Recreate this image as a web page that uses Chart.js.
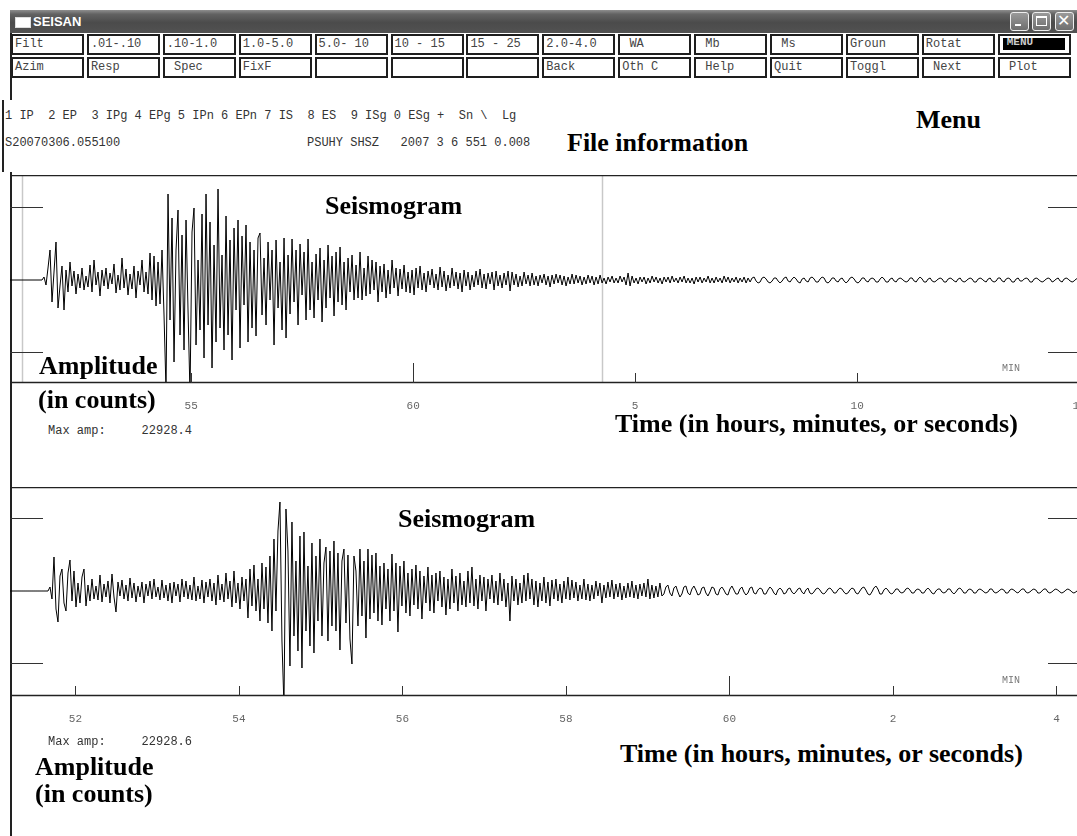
<!DOCTYPE html>
<html>
<head>
<meta charset="utf-8">
<title>SEISAN</title>
<script src="https://cdn.jsdelivr.net/npm/chart.js@4.4.1/dist/chart.umd.min.js"></script>
<style>
  html, body { margin: 0; padding: 0; background: #fff; }
  body { width: 1077px; height: 836px; overflow: hidden; position: relative; }
  .abs { position: absolute; white-space: pre; }
  .mono { font-family: 'Liberation Mono', 'DejaVu Sans Mono', monospace; font-size: 12px; line-height: 12px; color: #333; }
  .note { font-family: 'Liberation Serif', 'DejaVu Serif', serif; font-weight: bold; font-size: 26px; line-height: 26px; color: #000; }
  #titlebar { left: 10px; top: 10px; width: 1067px; height: 23px;
    background: linear-gradient(to bottom, #8e8e8e 0%, #626262 18%, #4b4b4b 55%, #525252 100%); }
  #titlebar .ttl { left: 23px; top: 4px; font-family: 'Liberation Sans', sans-serif; font-weight: bold; font-size: 13px; color: #fff; }
  #titlebar .ico { left: 5px; top: 7px; width: 14px; height: 9px; background: #fff; border: 1px solid #ddd; }
  .ctl { position: absolute; top: 2px; width: 19px; height: 19px; box-sizing: border-box; border: 1px solid #eee; border-radius: 3px;
    background: linear-gradient(to bottom, #9a9a9a, #6e6e6e); }
  .btn { position: absolute; box-sizing: border-box; width: 73px; height: 21px; border: 2px solid #1e1e1e; background: #fff;
    font-family: 'Liberation Mono', monospace; font-size: 12px; line-height: 14px; color: #444; padding: 1px 0 0 2px; white-space: pre; }
  .plot { position: absolute; left: 10px; }
  .edge { position: absolute; width: 2px; background: #222; }
</style>
</head>
<body>
<div id="titlebar" class="abs">
  <div class="abs ico"></div>
  <div class="abs ttl">SEISAN</div>
  <div class="ctl" style="left:1000px"><div class="abs" style="left:4px;top:11px;width:6px;height:2px;background:#fff"></div></div>
  <div class="ctl" style="left:1022px"><div class="abs" style="left:3px;top:3px;width:11px;height:10px;box-sizing:border-box;border:1px solid #fff;border-top-width:2px"></div></div>
  <div class="ctl" style="left:1045px"><div class="abs" style="left:1px;top:-2px;font-family:'DejaVu Sans';font-size:16px;color:#fff">✕</div></div>
</div>
<div id="menu"></div>
<div class="edge" style="left:10px;top:33px;height:67px"></div>
<div class="edge" style="left:2px;top:100px;height:72px"></div>
<div class="edge" style="left:10px;top:172px;height:664px"></div>

<div class="abs mono" style="left:5px;top:110px">1 IP  2 EP  3 IPg 4 EPg 5 IPn 6 EPn 7 IS  8 ES  9 ISg 0 ESg +  Sn \  Lg</div>
<div class="abs mono" style="left:5px;top:137px">S20070306.055100</div>
<div class="abs mono" style="left:307px;top:137px">PSUHY SHSZ   2007 3 6 551 0.008</div>

<div class="abs note" style="left:916px;top:107px">Menu</div>
<div class="abs note" style="left:567px;top:130px">File information</div>

<div class="plot" style="top:175px"><canvas id="traceTop" width="1100" height="248"></canvas></div>
<div class="plot" style="top:487px"><canvas id="traceBottom" width="1100" height="249"></canvas></div>

<div class="abs mono" style="left:1002px;top:363px;font-size:10px;color:#777">MIN</div>
<div class="abs mono" style="left:1002px;top:675px;font-size:10px;color:#777">MIN</div>
<div class="abs mono" style="left:48px;top:425px">Max amp:     22928.4</div>
<div class="abs mono" style="left:48px;top:736px">Max amp:     22928.6</div>

<div class="abs note" style="left:325px;top:193px">Seismogram</div>
<div class="abs note" style="left:39px;top:353px">Amplitude</div>
<div class="abs note" style="left:38px;top:387px">(in counts)</div>
<div class="abs note" style="left:615px;top:411px">Time (in hours, minutes, or seconds)</div>
<div class="abs note" style="left:398px;top:506px">Seismogram</div>
<div class="abs note" style="left:35px;top:754px">Amplitude</div>
<div class="abs note" style="left:35px;top:781px">(in counts)</div>
<div class="abs note" style="left:620px;top:741px">Time (in hours, minutes, or seconds)</div>

<script>
// menu buttons
const menuRow1 = ['Filt', '.01-.10', '.10-1.0', '1.0-5.0', '5.0- 10', '10 - 15', '15 - 25', '2.0-4.0', ' WA', ' Mb', ' Ms', 'Groun', 'Rotat', 'MENU'];
const menuRow2 = ['Azim', 'Resp', ' Spec', 'FixF', '', '', '', 'Back', 'Oth C', ' Help', 'Quit', 'Toggl', ' Next', ' Plot'];

// time axis, minutes after 05:00
const topStart = 50.92, topStep = 0.04505, topEnd = 75.244;
const zoomWindow = [51.2, 64.25];            // grey marks on the upper trace
const topTickMinutes = [55, 60, 65, 70, 75];
const topTickLabels = ['55', '60', '5', '10', '15'];
const bottomStart = 51.2, bottomStep = 0.02446, bottomEnd = 64.41;
const bottomTickMinutes = [52, 54, 56, 58, 60, 62, 64];
const bottomTickLabels = ['52', '54', '56', '58', '60', '2', '4'];
const hourMinute = 60;
const ampMarks = [14600, -14400];

// PSUHY SHSZ, amplitude in counts (decimated for display)
const traceTop = [
  0,0,0,0,0,0,0,0,0,0,0,0,0,0,0,0,0,
  600,-1000,2400,6000,-4400,1600,7600,-5600,-1200,2800,
  -6000,2000,-2400,3600,-1200,1800,-2800,1200,-1600,2400,
  -2000,800,-1400,3000,-2400,4000,-1000,1600,-3200,2000,
  -1200,2400,-1800,1400,-800,3200,-2600,1000,-2000,4400,
  -1600,2200,-3000,1200,-1800,2800,-3600,1800,-1000,4000,
  -2400,1600,-2800,5400,
  -4000,4800,-5200,3600,-4800,6000,-7000,
  -22000,17200,-8000,12400,-16400,6000,14000,-11000,9000,-14000,
  12000,-6000,-22928,9600,14400,-13000,4000,-10000,13200,-15600,
  17200,-9000,11600,-17600,7000,-12400,18200,-9600,5000,-14000,
  12800,-11000,8000,-16000,10400,-6000,12000,-13600,8800,-5000,
  11000,-12400,7600,-9600,6000,-11200,8400,
  9400,-7000,4400,-9000,7600,-4000,6000,-13000,8000,-5600,
  3600,-10000,8400,-11600,5000,-6800,8200,-4400,6000,-9000,
  7200,-3000,5600,-8000,8200,-6000,3600,-7600,5200,-4000,
  6400,-8400,4000,-5600,7000,-3600,4800,-7200,5600,-4400,
  6600,
  -5000,3600,-6000,4400,-2400,5000,-4000,3000,-3600,5600,
  -4000,2400,-3200,4800,-2800,4000,-2000,3600,-4400,2800,
  -2400,3200,-3600,2000,-2800,4000,-1600,2400,-3200,2200,
  -1800,3000,-2400,1600,-2600,2000,-3000,2400,-1600,2800,
  -2000,1400,-2400,1800,-1000,2200,-1600,1200,-2000,2600,
  -1400,1800,-2200,1000,-1600,2400,-1200,1600,-1800,1400,
  -2400,2000,-1200,1600,-2000,1000,-1400,1800,-1000,2200,
  -1600,1200,-1800,1400,-800,1600,-2000,1800,-1200,1000,
  -1600,1400,-1000,1800,-2200,
  1600,-1000,1200,-1400,800,-1200,1600,-800,1000,-1200,
  1400,-1000,800,-1200,1000,-600,1200,-1000,800,-1400,
  1000,-800,1200,-600,1000,-1000,800,-1200,600,-800,
  1200,-800,1000,-600,800,-1000,600,-800,1000,-600,
  800,-1000,600,-800,1000,
  -600,400,-800,600,-400,800,-600,400,-600,800,
  -400,600,-1000,1400,-1200,800,-600,400,-800,600,
  -400,600,-800,400,-600,800,-400,600,-600,400,
  -800,600,-400,600,-600,800,-400,400,-600,600,
  -400,800,-600,400,-600,400,-800,600,-400,600,
  -600,400,-400,800,-600,400,-600,600,-400,400,
  -600,800,-400,600,-600,400,-400,600,-600,400,
  -400,600,-600,400,-400,
  400,600,-200,-600,-400,400,600,200,-400,-600,
  -200,400,400,-200,-600,-200,400,600,-200,-400,
  200,600,200,-400,-600,200,400,-200,-400,400,
  600,200,-400,-400,200,600,400,-400,-600,-200,
  400,400,-200,-400,200,400,-200,-600,-200,400,
  600,200,-400,-600,-200,400,400,-200,-400,200,
  400,200,-400,-400,200,600,200,-400,-400,200,
  400,-200,-400,200,400,200,-200,-400,-200,400,
  400,-200,-400,200,600,200,-400,-400,200,400,
  -200,-400,-200,200,400,200,-400,-400,200,400,
  200,-200,-400,200,400,-200,-400,-200,200,400,
  200,-400,-400,200,400,200,-200,-400,200,400,
  -200,-400,-200,400,400,-200,-400,200,400,200,
  -400,-400,200,400,-200,-200,200,400,200,-400,
  -400,200,400,200,-200,-400,-200,200,400,200,
  -400,-200,200,400,-200,-400,200,400,200,-200,
  -400,-200,200,400,200,-200,-400,200,400
];

const traceBottom = [
  0,0,0,0,0,0,0,0,0,0,0,0,0,0,0,0,0,0,0,0,
  800,-1600,6800,-3600,-6200,3000,4400,-2400,-4000,3600,
  6200,-2000,4000,-3200,1600,-2400,2800,4400,-3000,1200,
  -2000,2400,-1600,1000,-1800,3200,-2200,1400,-1200,2000,
  -2400,3400,-1200,-4200,1800,-1000,2200,-1600,1200,-2000,
  2600,-1400,1600,-2200,1000,-1200,1800,-2400,1400,-1000,
  2000,-1600,2400,-1200,800,-1800,2200,-1400,1200,-2000,
  1600,-2400,1800,-1000,1400,-2200,2400,-1200,2000,-1600,
  1200,-1800,2800,-2000,1000,-1600,2200,-2400,1800,-1200,
  2400,-2000,1600,-2800,3200,-1800,1400,-2200,3600,-1600,
  2000,-3200,4000,-2400,1600,-3600,2800,-2000,2400,-5400,
  4400,-3000,5200,-4000,2400,-6000,5600,-3600,4800,-6400,7000,
  -8000,10400,-4000,12000,17800,-10000,-22928,16400,8000,-15000,
  13800,-9000,6000,-12000,11000,-15400,11800,-8000,5000,-11000,
  9600,-12400,7000,-6000,10400,-9000,5600,8800,-10000,8000,
  -7000,10000,-8000,7600,-11800,6000,8400,-6400,7200,-9600,
  -14600,7000,4000,-7000,8400,-5000,6000,-9400,8400,-5600,
  7200,-4400,7600,-6000,5000,-6800,5600,-3600,4400,-6000,
  7400,-4000,5600,-8200,5000,-3000,6000,-4400,3600,-5000,
  4400,-2800,5200,-3600,4000,-5600,3000,-2400,4800,-4000,
  3200,-4400,3600,-2000,4000,-3200,2800,-4800,2400,-3600,
  4400,-2400,3000,-4000,3600,-2800,2000,-3200,4000,-2400,
  4800,-3000,2400,-3600,3200,
  -2000,2800,-4000,2400,-1600,3200,-2400,2000,-2800,3600,
  -2000,2400,-3200,1600,-6000,3000,-2000,2400,-2800,1600,
  -2400,3200,-2000,3600,-1600,2400,-2800,2000,-3200,1600,
  -2000,2800,-2400,1800,-3000,2200,-1600,2400,-2000,1400,
  -2400,2000,-1600,2800,-1800,
  2200,-1400,1800,-2000,1200,-1600,2400,-1800,1400,-2000,
  1200,-1600,2000,-1000,1600,-2400,1200,-1400,1800,-1200,
  2200,-1600,1400,-1200,1600,-1800,1000,-1400,1600,-1200,
  2000,-1400,1200,-1600,1400,-1000,1600,-1200,2400,-1600,
  1200,-1400,1000,-1200,1600,
  -1000,-600,800,1200,-400,-1000,600,1000,-200,-1200,
  -600,800,1000,-400,-800,400,1000,200,-800,-600,
  600,800,-400,-1000,-200,800,600,-600,-800,400,
  800,200,-600,-800,400,1000,200,-600,-600,400,
  800,-200,-800,-400,600,800,-400,-600,200,600,
  400,-600,-600,200,800,400,-400,-800,200,600,
  200,-600,-400,400,600,-200,-600,-200,400,600,
  -200,-600,200,600,-400,
  -600,-200,400,600,200,-400,-600,-200,400,600,
  200,-400,-400,200,600,400,-200,-600,-400,200,
  600,400,-400,-600,0,600,800,200,-600,-800,
  -200,600,1000,400,-600,-600,200,600,200,-400,
  -600,-200,400,400,-200,-400,-200,400,600,200,
  -400,-400,200,400,200,-400,-400,200,600,200,
  -400,-600,0,400,400,-200,-400,-200,400,400,
  -200,-600,-200,400,600,200,-400,-400,200,400,
  200,-400,-400,200,400,200,-200,-400,-200,400,
  400,-200,-400,-200,200,400,200,-400,-400,200,
  400,200,-200,-400,0,400,400,-200,-400,-200,
  200,400,200,-400,-400,0,400,400,-200,-400,
  -200,200,400,200,-200,-400,-200,200,400,200,
  -200,-400,-200,200,400,200,-200,-400,0
];

const menu = document.getElementById('menu');
[menuRow1, menuRow2].forEach((row, r) => {
  row.forEach((label, i) => {
    const b = document.createElement('div');
    b.className = 'btn';
    b.style.left = (11 + i * 75.9) + 'px';
    b.style.top = (34 + r * 23) + 'px';
    if (label === 'MENU') {
      b.innerHTML = '<div style="position:absolute;left:3px;top:2px;width:62px;height:12px;background:#000;color:#ccc;font-size:11px;line-height:9px;font-weight:bold;padding-left:4px;box-sizing:border-box">MENU</div>';
    } else {
      b.textContent = label;
    }
    menu.appendChild(b);
  });
});

const panelDecor = {
  id: 'panelDecor',
  beforeDatasetsDraw(chart, args, opts) {
    const { ctx, chartArea: a, scales: { x } } = chart;
    ctx.save();
    ctx.strokeStyle = '#c8c8c8';
    ctx.lineWidth = 1.5;
    (opts.markers || []).forEach(t => {
      const px = Math.round(x.getPixelForValue(t)) + 0.5;
      ctx.beginPath(); ctx.moveTo(px, a.top); ctx.lineTo(px, a.bottom); ctx.stroke();
    });
    ctx.restore();
  },
  afterDatasetsDraw(chart, args, opts) {
    const { ctx, chartArea: a, scales: { x, y } } = chart;
    ctx.save();
    ctx.strokeStyle = '#222';
    ctx.lineWidth = 1.5;
    ctx.beginPath();
    ctx.moveTo(a.left + 1, a.top + 0.5); ctx.lineTo(a.right, a.top + 0.5);
    ctx.moveTo(a.left + 1, a.bottom - 0.5); ctx.lineTo(a.right, a.bottom - 0.5);
    ctx.stroke();
    ctx.lineWidth = 1;
    ctx.strokeStyle = '#333';
    ampMarks.forEach(v => {
      const py = Math.round(y.getPixelForValue(v)) + 0.5;
      ctx.beginPath();
      ctx.moveTo(a.left, py); ctx.lineTo(a.left + 33, py);
      ctx.moveTo(1038, py); ctx.lineTo(a.right, py);
      ctx.stroke();
    });
    opts.ticks.forEach(t => {
      const px = Math.round(x.getPixelForValue(t)) + 0.5;
      const h = t === hourMinute ? 20 : 10;
      ctx.beginPath(); ctx.moveTo(px, a.bottom); ctx.lineTo(px, a.bottom - h); ctx.stroke();
    });
    ctx.restore();
  }
};

function makeTrace(id, values, start, step, min, max, yMin, yMax, tickValues, tickLabels, markers) {
  return new Chart(document.getElementById(id), {
    type: 'line',
    data: {
      datasets: [{
        data: values.map((v, i) => ({ x: start + i * step, y: v })),
        borderColor: '#000',
        borderWidth: 1,
        borderJoinStyle: 'bevel',
        pointRadius: 0,
        tension: 0,
        fill: false
      }]
    },
    options: {
      responsive: false,
      animation: false,
      events: [],
      layout: { padding: { left: 0, top: 0, bottom: 0, right: 20 } },
      plugins: {
        legend: { display: false },
        tooltip: { enabled: false },
        panelDecor: { ticks: tickValues, markers: markers }
      },
      scales: {
        x: {
          type: 'linear',
          min: min,
          max: max,
          border: { display: false },
          grid: { display: false, drawTicks: false },
          afterBuildTicks: s => { s.ticks = tickValues.map(v => ({ value: v })); },
          afterFit: s => { s.height = 40; },
          ticks: {
            autoSkip: false,
            maxRotation: 0,
            padding: 16,
            color: '#666',
            font: { family: 'Liberation Mono', size: 11 },
            callback: (v, i) => tickLabels[i]
          }
        },
        y: { display: false, min: yMin, max: yMax }
      }
    },
    plugins: [panelDecor]
  });
}

makeTrace('traceTop', traceTop, topStart, topStep, topStart, topEnd, -20600, 21000,
  topTickMinutes, topTickLabels, zoomWindow);
makeTrace('traceBottom', traceBottom, bottomStart, bottomStep, bottomStart, bottomEnd, -21000, 20800,
  bottomTickMinutes, bottomTickLabels, []);
</script>
</body>
</html>
